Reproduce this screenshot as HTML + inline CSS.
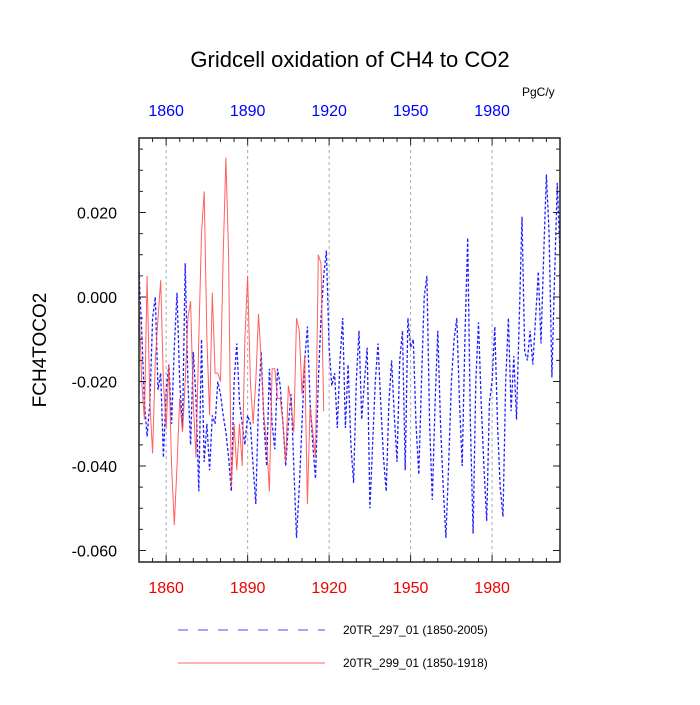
<!DOCTYPE html>
<html><head><meta charset="utf-8"><style>
body{margin:0;background:#fff;}
svg text{font-family:"Liberation Sans",sans-serif;}
</style></head><body>
<svg id="chart" width="700" height="700" xmlns="http://www.w3.org/2000/svg">
<rect width="700" height="700" fill="#fff"/>
<text x="350" y="67" font-size="22" text-anchor="middle">Gridcell oxidation of CH4 to CO2</text>
<text x="522" y="96" font-size="12">PgC/y</text>
<text transform="translate(46,350) rotate(-90)" font-size="19" text-anchor="middle">FCH4TOCO2</text>
<g id="grid"></g>
<g id="series"></g>
<g id="axes"></g>
<rect x="139" y="138" width="421" height="424" fill="none" stroke="#222" stroke-width="1.5"/>
<g>
<line x1="178" y1="630" x2="325" y2="630" stroke="#4a4aff" stroke-width="1" stroke-dasharray="10,10"/>
<text x="343" y="634" font-size="12">20TR_297_01 (1850-2005)</text>
<line x1="178" y1="663" x2="325" y2="663" stroke="#ff6666" stroke-width="1"/>
<text x="343" y="667" font-size="12">20TR_299_01 (1850-1918)</text>
</g>
</svg>
<script>
const blueStart = 1850;
const blueValues = [0.006,-0.008,-0.025,-0.033,-0.025,-0.005,0.000,-0.022,-0.018,-0.038,
-0.022,-0.016,-0.030,-0.012,0.001,-0.020,-0.031,0.008,-0.020,-0.035,
-0.013,-0.024,-0.046,-0.010,-0.039,-0.030,-0.041,-0.028,-0.030,-0.020,
-0.023,-0.028,-0.032,-0.038,-0.046,-0.020,-0.011,-0.025,-0.030,-0.035,
-0.028,-0.030,-0.040,-0.049,-0.025,-0.013,-0.030,-0.040,-0.017,-0.030,
-0.036,-0.017,-0.021,-0.030,-0.040,-0.030,-0.023,-0.040,-0.057,-0.045,
-0.030,-0.015,-0.007,-0.025,-0.035,-0.043,-0.020,-0.005,0.005,0.011,
-0.012,-0.021,-0.018,-0.031,-0.015,-0.005,-0.031,-0.016,-0.035,-0.044,
-0.020,-0.008,-0.029,-0.020,-0.012,-0.050,-0.035,-0.020,-0.011,-0.025,
-0.038,-0.046,-0.025,-0.015,-0.028,-0.039,-0.015,-0.008,-0.041,-0.005,
-0.012,-0.010,-0.030,-0.042,-0.020,0.000,0.005,-0.030,-0.048,-0.025,
-0.008,-0.030,-0.045,-0.057,-0.040,-0.020,-0.010,-0.005,-0.025,-0.040,
-0.010,0.014,-0.030,-0.056,-0.020,-0.006,-0.025,-0.040,-0.053,-0.025,
-0.020,-0.007,-0.030,-0.045,-0.052,-0.020,-0.005,-0.027,-0.014,-0.029,
-0.005,0.019,-0.013,-0.015,-0.008,-0.016,-0.005,0.006,-0.011,0.010,
0.029,0.015,-0.019,0.005,0.027,0.010];
const redStart = 1850;
const redValues = [-0.001,-0.020,-0.029,0.005,-0.025,-0.037,-0.015,-0.005,0.004,-0.020,
-0.031,-0.016,-0.040,-0.054,-0.040,-0.024,-0.032,-0.020,-0.005,-0.001,
-0.025,-0.038,-0.010,0.015,0.025,-0.010,-0.028,0.001,-0.018,-0.018,
-0.020,0.010,0.033,0.010,-0.045,-0.030,-0.041,-0.030,-0.040,-0.010,
0.005,-0.020,-0.030,-0.020,-0.004,-0.015,-0.028,-0.035,-0.046,-0.017,
-0.017,-0.024,-0.024,-0.030,-0.039,-0.021,-0.025,-0.032,-0.005,-0.008,
-0.023,-0.014,-0.049,-0.026,-0.032,-0.038,0.010,0.008,-0.027];
const xTickYears = [1860,1890,1920,1950,1980];
const yTickValues = [0.020,0.000,-0.020,-0.040,-0.060];
const yTickLabels = ["0.020","0.000","-0.020","-0.040","-0.060"];

const NS="http://www.w3.org/2000/svg";
const X0=139,X1=560,Y0=138,Y1=562;
function xs(yr){return X0+(yr-1850)*(X1-X0)/155;}
function ys(v){return 297-v*(84.5/0.02);}
function mk(tag,attrs,parent){const e=document.createElementNS(NS,tag);for(const k in attrs)e.setAttribute(k,attrs[k]);parent.appendChild(e);return e;}
const grid=document.getElementById('grid'),series=document.getElementById('series'),axes=document.getElementById('axes');

xTickYears.forEach(yr=>{
  const x=xs(yr);
  const g=mk('line',{x1:x,y1:Y0,x2:x,y2:Y1,stroke:'#aaa','stroke-width':1,'stroke-dasharray':'3,3'},grid);
  
  
  const tb=mk('text',{x:x,y:593,'font-size':16,fill:'#e00','text-anchor':'middle'},axes);
  tb.textContent=yr;
  
  
  const tt=mk('text',{x:x,y:116,'font-size':16,fill:'#00f','text-anchor':'middle'},axes);
  tt.textContent=yr;
  
  
});
for(let yr=1850;yr<=2005;yr+=5){
  const x=xs(yr),len=(yr%30===0&&yr!==1850||xTickYears.includes(yr))?7:4;
  const a=mk('line',{x1:x,y1:Y1,x2:x,y2:Y1-len,stroke:'#222'},axes);
  
  
  const b=mk('line',{x1:x,y1:Y0,x2:x,y2:Y0+len,stroke:'#222'},axes);
  
  
}
for(let v=-0.060;v<=0.0351;v+=0.005){
  const y=ys(v);
  const major=Math.abs(Math.round(v*1000)%20)===0;
  const len=major?7:4;
  const a=mk('line',{x1:X0,y1:y,x2:X0+len,y2:y,stroke:'#222'},axes);
  
  
  const b=mk('line',{x1:X1,y1:y,x2:X1-len,y2:y,stroke:'#222'},axes);
  
  
}
yTickValues.forEach((v,i)=>{
  const t=mk('text',{x:117,y:ys(v)+6,'font-size':16,'text-anchor':'end'},axes);
  t.textContent=yTickLabels[i];
  
  
});
function pts(start,vals){return vals.map((v,i)=>xs(start+i).toFixed(1)+','+ys(v).toFixed(1)).join(' ');}
const blue=mk('polyline',{points:pts(blueStart,blueValues),fill:'none',stroke:'#2020ff','stroke-width':1.3,'stroke-dasharray':'3,2'},series);


const red=mk('polyline',{points:pts(redStart,redValues),fill:'none',stroke:'#ff4444','stroke-width':1,'stroke-opacity':0.85},series);


</script>
</body></html>
